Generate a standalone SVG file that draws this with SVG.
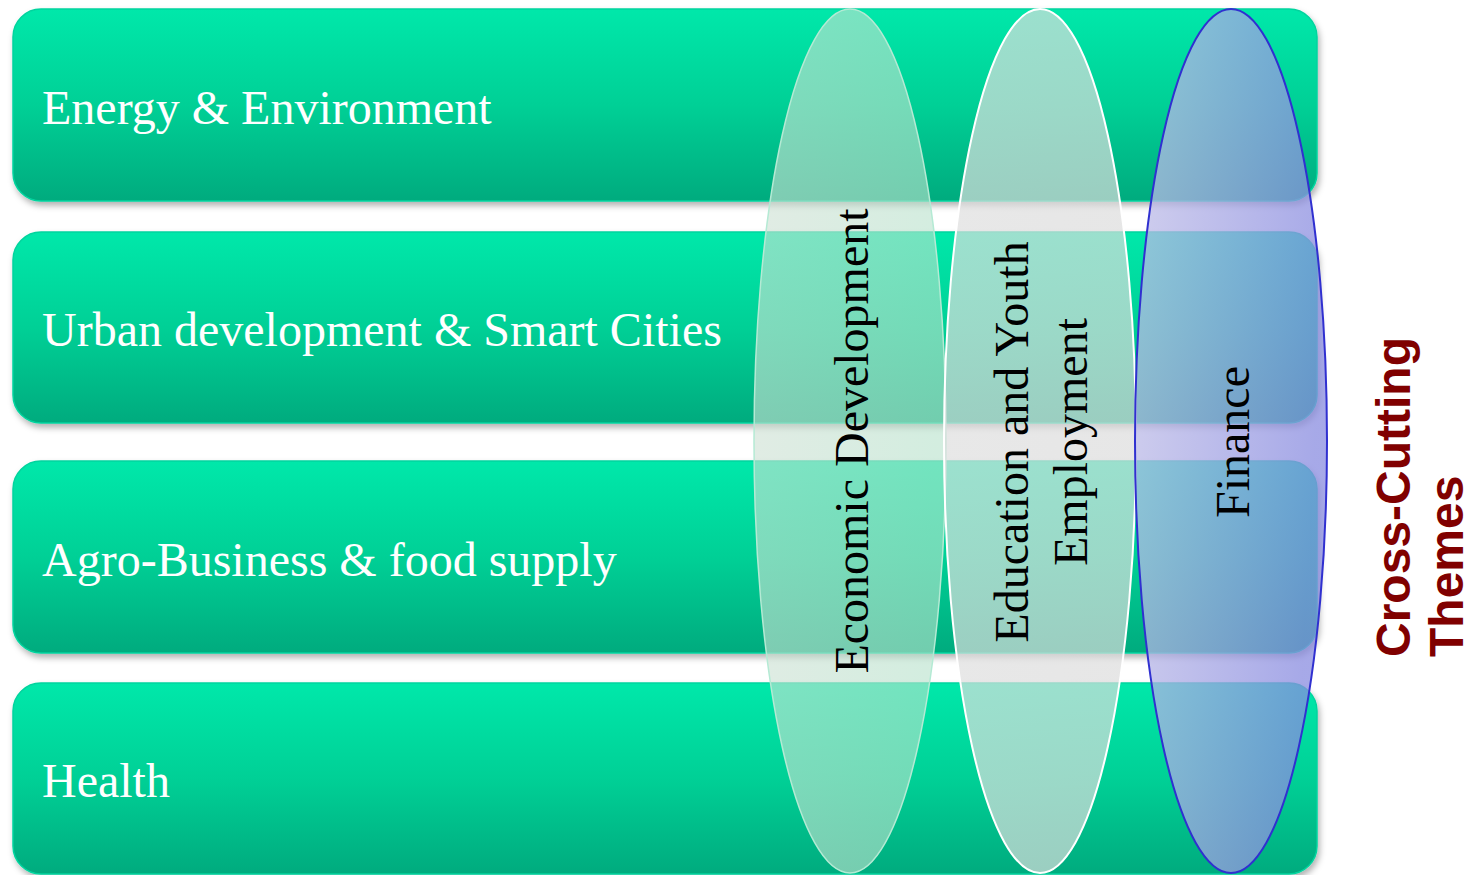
<svg xmlns="http://www.w3.org/2000/svg" width="1474" height="875" viewBox="0 0 1474 875">
<defs>
<linearGradient id="barG" x1="0" y1="0" x2="0" y2="1">
<stop offset="0" stop-color="#00e8aa"/>
<stop offset="0.5" stop-color="#00d096"/>
<stop offset="1" stop-color="#00ab7e"/>
</linearGradient>
<linearGradient id="e1G" x1="0" y1="0" x2="1" y2="0.2">
<stop offset="0" stop-color="#d0e0d4"/>
<stop offset="1" stop-color="#b8e2cc"/>
</linearGradient>
<linearGradient id="e2G" x1="0" y1="0" x2="1" y2="0">
<stop offset="0" stop-color="#dedede"/>
<stop offset="1" stop-color="#dcdcdc"/>
</linearGradient>
<linearGradient id="e3G" x1="0" y1="0" x2="1" y2="0.25">
<stop offset="0" stop-color="#c2c0e8"/>
<stop offset="1" stop-color="#898ce0"/>
</linearGradient>
<filter id="sh" x="-5%" y="-10%" width="110%" height="125%">
<feDropShadow dx="2" dy="4" stdDeviation="3" flood-color="#000" flood-opacity="0.3"/>
</filter>
</defs>
<style>
.bar{fill:url(#barG);stroke:#00d49e;stroke-width:1.5;filter:url(#sh)}
.lbl{font-family:"Liberation Serif","Times New Roman",serif;font-size:48px;fill:#ffffff}
.vt{font-family:"Liberation Serif","Times New Roman",serif;font-size:48px;fill:#000000;text-anchor:middle}
.cc{font-family:"Liberation Sans",Arial,sans-serif;font-size:48px;font-weight:bold;fill:#800000}
</style>
<g id="bar-energy">
<rect class="bar" x="13" y="9" width="1304" height="192" rx="28"/>
<text class="lbl" x="42" y="124">Energy &amp; Environment</text>
</g>
<g id="bar-urban">
<rect class="bar" x="13" y="232" width="1304" height="191" rx="28"/>
<text class="lbl" x="42" y="346">Urban development &amp; Smart Cities</text>
</g>
<g id="bar-agro">
<rect class="bar" x="13" y="461" width="1304" height="192" rx="28"/>
<text class="lbl" x="42" y="576">Agro-Business &amp; food supply</text>
</g>
<g id="bar-health">
<rect class="bar" x="13" y="683" width="1304" height="191" rx="28"/>
<text class="lbl" x="42" y="797">Health</text>
</g>
<g id="theme-economic">
<ellipse cx="850" cy="441" rx="96" ry="432" fill="url(#e1G)" fill-opacity="0.62" stroke="#b4ead4" stroke-width="1.5"/>
<text class="vt" transform="translate(868,441) rotate(-90)">Economic Development</text>
</g>
<g id="theme-education">
<ellipse cx="1040" cy="441" rx="96" ry="432" fill="url(#e2G)" fill-opacity="0.7" stroke="#ffffff" stroke-width="2"/>
<text class="vt" transform="translate(1028,442) rotate(-90)">Education and Youth</text>
<text class="vt" transform="translate(1087,442) rotate(-90)">Employment</text>
</g>
<g id="theme-finance">
<ellipse cx="1231" cy="441" rx="96" ry="432" fill="url(#e3G)" fill-opacity="0.75" stroke="#3030d0" stroke-width="2"/>
<text class="vt" transform="translate(1249,442) rotate(-90)">Finance</text>
</g>
<g id="cross-cutting-label">
<text class="cc" transform="translate(1410,657) rotate(-90)">Cross-Cutting</text>
<text class="cc" transform="translate(1463,657) rotate(-90)">Themes</text>
</g>
<g id="connectors"/>
</svg>
